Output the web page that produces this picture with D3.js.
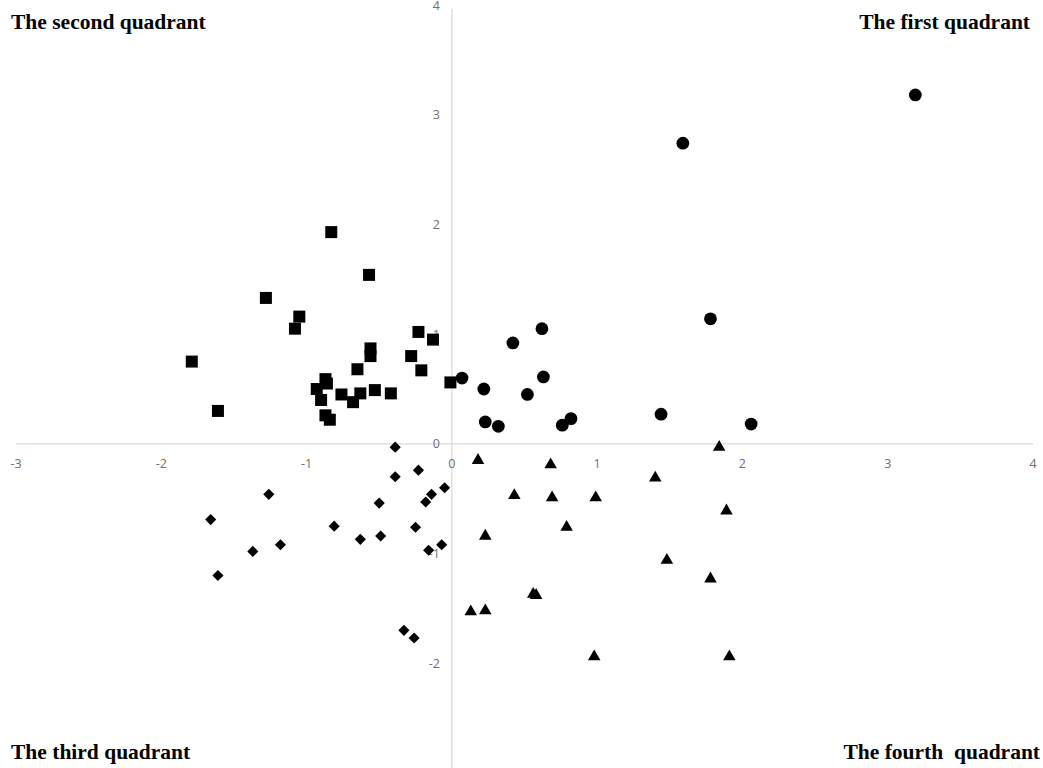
<!DOCTYPE html>
<html>
<head>
<meta charset="utf-8">
<script src="https://cdn.jsdelivr.net/npm/d3@7"></script>
<style>
  body { margin: 0; background: #fff; }
  .tick-lab { font-family: "Open Sans", sans-serif; font-size: 12.5px; fill: #6e6e6e; }
  .quad { font-family: "Liberation Serif", "Times New Roman", serif; font-weight: bold; font-size: 21.5px; fill: #000; }
</style>
</head>
<body>
<div class="chartContainer"></div>
<script>
const W = 1043, H = 768

// second quadrant (squares)
const squaresX = [-0.83, -0.57, -1.28, -1.05, -1.08, -1.79, -1.61, -0.23, -0.13, -0.56, -0.56, -0.28, -0.65, -0.21, -0.87, -0.86, -0.93, -0.90, -0.76, -0.63, -0.68, -0.53, -0.42, -0.87, -0.84, -0.01]
const squaresY = [1.93, 1.54, 1.33, 1.16, 1.05, 0.75, 0.30, 1.02, 0.95, 0.87, 0.80, 0.80, 0.68, 0.67, 0.59, 0.55, 0.50, 0.40, 0.45, 0.46, 0.38, 0.49, 0.46, 0.26, 0.22, 0.56]

// first quadrant (circles)
const circlesX = [3.19, 1.59, 1.78, 0.07, 0.22, 0.42, 0.62, 0.63, 0.52, 0.23, 0.32, 0.76, 0.82, 1.44, 2.06]
const circlesY = [3.18, 2.74, 1.14, 0.60, 0.50, 0.92, 1.05, 0.61, 0.45, 0.20, 0.16, 0.17, 0.23, 0.27, 0.18]

// third quadrant (diamonds)
const diamondsX = [-0.39, -0.23, -0.39, -0.05, -0.14, -0.18, -0.50, -1.26, -1.66, -0.81, -0.25, -0.49, -0.63, -1.18, -1.37, -0.07, -0.16, -1.61, -0.33, -0.26]
const diamondsY = [-0.03, -0.24, -0.30, -0.40, -0.46, -0.53, -0.54, -0.46, -0.69, -0.75, -0.76, -0.84, -0.87, -0.92, -0.98, -0.92, -0.97, -1.20, -1.70, -1.77]

// fourth quadrant (triangles)
const trianglesX = [0.18, 0.68, 1.84, 1.40, 0.43, 0.69, 0.99, 1.89, 0.79, 0.23, 1.48, 1.78, 0.56, 0.58, 0.13, 0.23, 0.98, 1.91]
const trianglesY = [-0.15, -0.19, -0.03, -0.31, -0.47, -0.49, -0.49, -0.61, -0.76, -0.84, -1.06, -1.23, -1.37, -1.38, -1.53, -1.52, -1.94, -1.94]

const xTicks = [-3, -2, -1, 0, 1, 2, 3, 4]
const yTicks = [-3, -2, -1, 0, 1, 2, 3, 4]
const quadLabels = ['The first quadrant', 'The second quadrant', 'The third quadrant', 'The fourth  quadrant']

const svg = d3.select('.chartContainer').append('svg')
    .attr('width', W)
    .attr('height', H)
    .attr('viewBox', [0, 0, W, H])

const x = d3.scaleLinear().domain([-3, 4]).range([16, 1033])
const y = d3.scaleLinear().domain([-3, 4]).range([773, 5])

// axis lines through origin
svg.append('line')
    .attr('x1', x(-3)).attr('x2', x(4))
    .attr('y1', y(0)).attr('y2', y(0))
    .style('stroke', '#d9d9d9').style('stroke-width', 1.2)
svg.append('line')
    .attr('x1', x(0)).attr('x2', x(0))
    .attr('y1', y(4) + 4).attr('y2', y(-3))
    .style('stroke', '#d9d9d9').style('stroke-width', 1.2)

// tick labels (top and bottom ones are cut by the frame, as in the original)
svg.selectAll('.xlab')
    .data(xTicks)
    .enter()
  .append('text')
    .attr('class', 'tick-lab')
    .attr('x', d => x(d))
    .attr('y', y(0) + 24)
    .attr('text-anchor', 'middle')
    .text(d => d)

svg.selectAll('.ylab')
    .data(yTicks)
    .enter()
  .append('text')
    .attr('class', 'tick-lab')
    .attr('x', x(0) - 12)
    .attr('y', d => y(d) + 4.5)
    .attr('text-anchor', 'end')
    .text(d => d)

function plotSeries(xs, ys, type, size, rotate) {
    const pts = xs.map((v, i) => ({x: v, y: ys[i]}))
    svg.append('g').selectAll('path')
        .data(pts)
        .enter()
      .append('path')
        .attr('d', d3.symbol().type(type).size(size))
        .attr('transform', d => 'translate(' + x(d.x) + ',' + y(d.y) + ')' + (rotate ? ' rotate(45)' : ''))
        .style('fill', '#000')
}

plotSeries(squaresX, squaresY, d3.symbolSquare, 144, false)
plotSeries(circlesX, circlesY, d3.symbolCircle, 128, false)
plotSeries(diamondsX, diamondsY, d3.symbolSquare, 62, true)
plotSeries(trianglesX, trianglesY, d3.symbolTriangle, 68, false)

// quadrant labels
svg.append('text').attr('class', 'quad').attr('x', 1030).attr('y', 29).attr('text-anchor', 'end').text(quadLabels[0])
svg.append('text').attr('class', 'quad').attr('x', 11).attr('y', 29).text(quadLabels[1])
svg.append('text').attr('class', 'quad').attr('x', 11).attr('y', 759).text(quadLabels[2])
svg.append('text').attr('class', 'quad').attr('x', 1040).attr('y', 759).attr('text-anchor', 'end').style('white-space', 'pre').text(quadLabels[3])
</script>
</body>
</html>
